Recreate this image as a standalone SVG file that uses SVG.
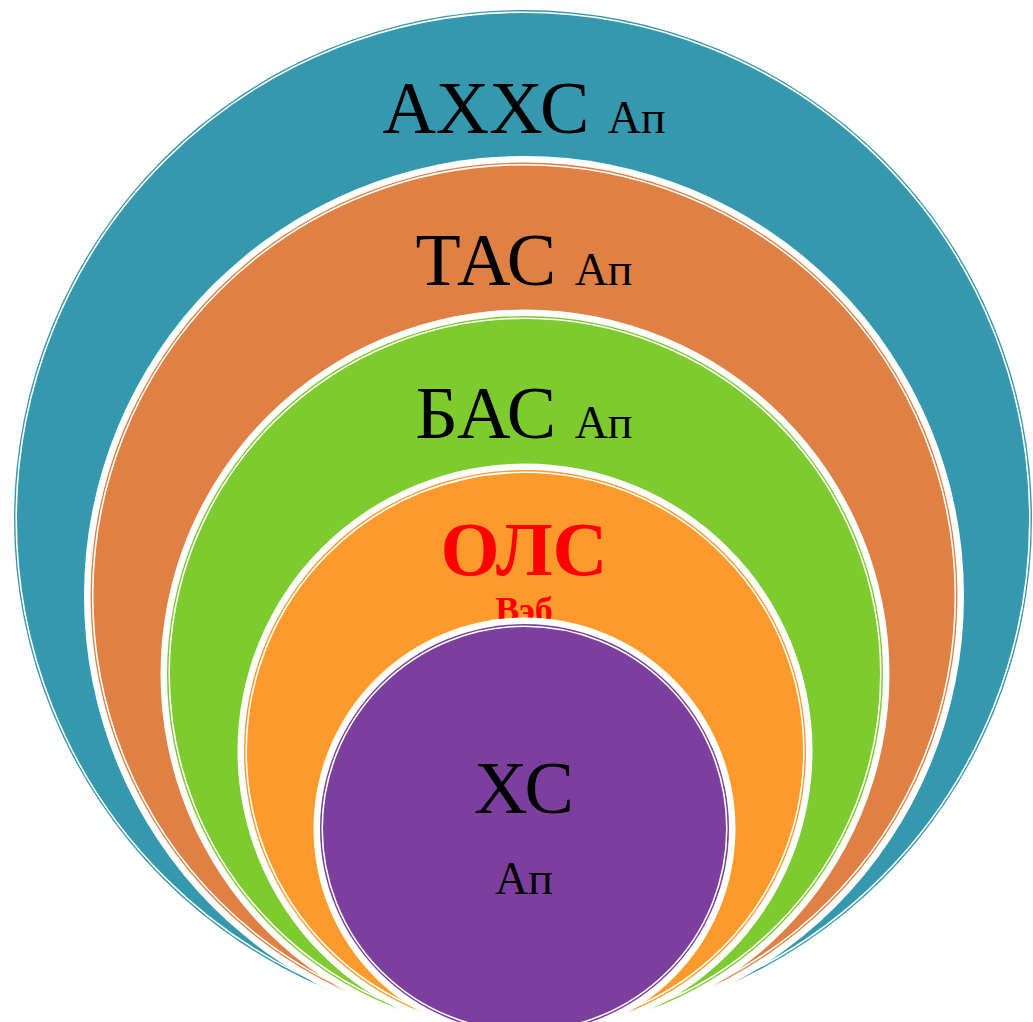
<svg xmlns="http://www.w3.org/2000/svg" width="1033" height="1022" viewBox="0 0 1033 1022">
  <style>
    .band { fill: #ffffff; }
    .ring { fill: none; stroke: #ffffff; stroke-width: 1.6; }
    .big { font-family: "Liberation Serif", "Times New Roman", serif; font-size: 74px; fill: #000000; }
    .small { font-size: 46px; }
    .red { font-family: "Liberation Serif", "Times New Roman", serif; font-weight: bold; fill: #ff0000; }
  </style>
  <rect width="1033" height="1022" fill="#ffffff"/>
  <g id="node-ahhs">
    <circle cx="523" cy="519" r="509" fill="#3698AE"/>
    <circle class="ring" cx="523" cy="519" r="506.8"/>
    <text class="big" x="524" y="133" text-anchor="middle">АХХС <tspan class="small">Ап</tspan></text>
  </g>
  <g id="node-tas">
    <circle class="band" cx="524" cy="596" r="440"/>
    <circle cx="524" cy="596" r="433.5" fill="#DF8144"/>
    <circle class="ring" cx="524" cy="596" r="431.3"/>
    <text class="big" x="524" y="285" text-anchor="middle">ТАС <tspan class="small">Ап</tspan></text>
  </g>
  <g id="node-bas">
    <circle class="band" cx="525" cy="674" r="364.5"/>
    <circle cx="525" cy="674" r="358" fill="#7DCB2E"/>
    <circle class="ring" cx="525" cy="674" r="355.8"/>
    <text class="big" x="524" y="438" text-anchor="middle">БАС <tspan class="small">Ап</tspan></text>
  </g>
  <g id="node-ols">
    <circle class="band" cx="525" cy="751" r="287.5"/>
    <circle cx="525" cy="751" r="281" fill="#FD9A2B"/>
    <circle class="ring" cx="525" cy="751" r="278.8"/>
    <text class="red" x="524" y="575" text-anchor="middle" font-size="76">ОЛС</text>
    <text class="red" x="524" y="622" text-anchor="middle" font-size="36">Вэб</text>
  </g>
  <g id="node-hs">
    <circle class="band" cx="524.5" cy="828.5" r="211"/>
    <circle cx="524.5" cy="828.5" r="204.5" fill="#7D3F9D"/>
    <circle class="ring" cx="524.5" cy="828.5" r="202.3"/>
    <text class="big" x="524" y="813" text-anchor="middle">ХС</text>
    <text class="big small" x="524" y="894" text-anchor="middle">Ап</text>
  </g>
  <g id="connectors"/>
</svg>
